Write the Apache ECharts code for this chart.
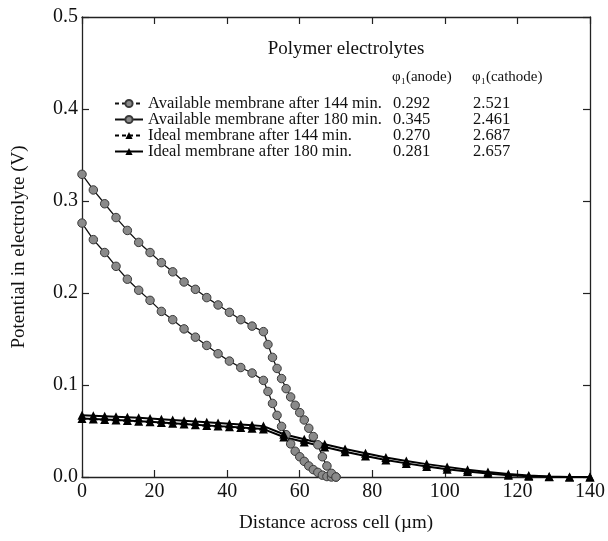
<!DOCTYPE html>
<html>
<head>
<meta charset="utf-8">
<script src="https://cdn.jsdelivr.net/npm/echarts@6/dist/echarts.min.js"></script>
<style>
  html, body { margin: 0; padding: 0; background: #fff; }
  #myChart { width: 608px; height: 541px; }
</style>
</head>
<body>
<div id="myChart"></div>
<script>
    // x positions (um): anode part with 3.125 steps, then finer / coarser meshes
    var xCircle = [0, 3.125, 6.25, 9.375, 12.5, 15.625, 18.75, 21.875, 25, 28.125, 31.25, 34.375, 37.5, 40.625, 43.75, 46.875, 50,
        51.25, 52.5, 53.75, 55, 56.25, 57.5, 58.75, 60, 61.25, 62.5, 63.75, 65, 66.25, 67.5, 68.75, 70];
    var xTriangle = [0, 3.125, 6.25, 9.375, 12.5, 15.625, 18.75, 21.875, 25, 28.125, 31.25, 34.375, 37.5, 40.625, 43.75, 46.875, 50,
        55.625, 61.25, 66.875, 72.5, 78.125, 83.75, 89.375, 95, 100.625, 106.25, 111.875, 117.5, 123.125, 128.75, 134.375, 140];

    var avail144 = [0.276, 0.258, 0.244, 0.229, 0.215, 0.203, 0.192, 0.180, 0.171, 0.161, 0.152, 0.143, 0.134, 0.126, 0.119, 0.113, 0.105,
        0.093, 0.080, 0.067, 0.055, 0.046, 0.036, 0.028, 0.022, 0.017, 0.012, 0.008, 0.005, 0.002, 0.0005, 0, 0];
    var avail180 = [0.329, 0.312, 0.297, 0.282, 0.268, 0.255, 0.244, 0.233, 0.223, 0.212, 0.204, 0.195, 0.187, 0.179, 0.171, 0.164, 0.158,
        0.144, 0.130, 0.118, 0.107, 0.096, 0.087, 0.078, 0.070, 0.062, 0.053, 0.044, 0.035, 0.022, 0.012, 0.004, 0];
    var ideal144 = [0.0635, 0.063, 0.0625, 0.062, 0.0614, 0.0607, 0.060, 0.0593, 0.0585, 0.0577, 0.0569, 0.0561, 0.0553, 0.0545, 0.0537, 0.0529, 0.0521,
        0.0435, 0.038, 0.0325, 0.0275, 0.0228, 0.0185, 0.0148, 0.0115, 0.0085, 0.006, 0.0038, 0.002, 0.0008, 0.0002, 0, 0];
    var ideal180 = [0.067, 0.0665, 0.066, 0.0655, 0.065, 0.0643, 0.0636, 0.0628, 0.062, 0.0612, 0.0603, 0.0595, 0.0587, 0.0578, 0.057, 0.0562, 0.0553,
        0.0465, 0.041, 0.0357, 0.0305, 0.0258, 0.0213, 0.0175, 0.014, 0.011, 0.008, 0.0055, 0.0033, 0.0015, 0.0005, 0.0001, 0];

    var seriesNames = ['Available membrane after 144 min.', 'Available membrane after 180 min.',
        'Ideal membrane after 144 min.', 'Ideal membrane after 180 min.'];
    var phiAnode = ['0.292', '0.345', '0.270', '0.281'];
    var phiCathode = ['2.521', '2.461', '2.687', '2.657'];

    var xTicks = [0, 20, 40, 60, 80, 100, 120, 140];
    var yTicks = [0.0, 0.1, 0.2, 0.3, 0.4, 0.5];

    var FONT = '"Liberation Serif", "Times New Roman", serif';

    function pairs(xs, ys) {
        var out = [];
        for (var i = 0; i < xs.length; i++) { out.push([xs[i], ys[i]]); }
        return out;
    }

    function circleSeries(name, ys) {
        return {
            name: name, type: 'line', data: pairs(xCircle, ys),
            symbol: 'circle', symbolSize: 8.5,
            itemStyle: { color: '#8a8a8a', borderColor: '#3a3a3a', borderWidth: 1 },
            lineStyle: { color: '#111', width: 1.3 },
            animation: false
        };
    }
    function triangleSeries(name, ys) {
        return {
            name: name, type: 'line', data: pairs(xTriangle, ys),
            symbol: 'triangle', symbolSize: 9,
            itemStyle: { color: '#000' },
            lineStyle: { color: '#000', width: 2 },
            animation: false
        };
    }

    // 144 min entries are drawn dashed in the key only
    var legendData = seriesNames.map(function (n, i) {
        return i % 2 === 0 ? { name: n, lineStyle: { type: [4, 3] } } : { name: n };
    });

    var myChart = echarts.init(document.getElementById('myChart'));

    var tickStyle = { inside: true, length: 7, lineStyle: { color: '#222', width: 1.2 } };
    var lineStyle = { onZero: false, lineStyle: { color: '#222', width: 1.3 } };

    var option = {
        backgroundColor: '#fff',
        animation: false,
        grid: { left: 82, right: 14, top: 17, bottom: 64 },
        title: {
            text: 'Polymer electrolytes',
            left: 341, top: 35, textAlign: 'center',
            textStyle: { fontFamily: FONT, fontSize: 19, fontWeight: 'normal', color: '#111' }
        },
        graphic: [
            { type: 'text', left: 392, top: 70, style: { text: 'φ₁(anode)', font: '15px ' + FONT, fill: '#111' } },
            { type: 'text', left: 472, top: 70, style: { text: 'φ₁(cathode)', font: '15px ' + FONT, fill: '#111' } }
        ],
        legend: {
            data: legendData,
            orient: 'vertical',
            left: 109, top: 90,
            itemWidth: 28, itemHeight: 9, itemGap: -1,
            textStyle: {
                fontFamily: FONT, fontSize: 16.5, color: '#111', lineHeight: 16,
                rich: {
                    n: { fontFamily: FONT, fontSize: 16.5, width: 245, lineHeight: 16, color: '#111' },
                    a: { fontFamily: FONT, fontSize: 16.5, width: 80, lineHeight: 16, color: '#111' },
                    c: { fontFamily: FONT, fontSize: 16.5, lineHeight: 16, color: '#111' }
                }
            },
            formatter: function (name) {
                var i = seriesNames.indexOf(name);
                return '{n|' + name + '}{a|' + phiAnode[i] + '}{c|' + phiCathode[i] + '}';
            }
        },
        xAxis: [{
            type: 'value', min: 0, max: 140, interval: 20,
            name: 'Distance across cell (µm)', nameLocation: 'middle', nameGap: 37,
            nameTextStyle: { fontFamily: FONT, fontSize: 19, color: '#111' },
            axisLine: lineStyle, axisTick: tickStyle, splitLine: { show: false },
            axisLabel: {
                fontFamily: FONT, fontSize: 20, color: '#111', margin: 5,
                formatter: function (v) { return xTicks.indexOf(v) >= 0 ? String(v) : ''; }
            }
        }, {
            type: 'value', position: 'top', min: 0, max: 140, interval: 20,
            axisLine: lineStyle, axisTick: tickStyle, axisLabel: { show: false }, splitLine: { show: false }
        }],
        yAxis: [{
            type: 'value', min: 0, max: 0.5, interval: 0.1,
            name: 'Potential in electrolyte (V)', nameLocation: 'middle', nameGap: 53,
            nameTextStyle: { fontFamily: FONT, fontSize: 19, color: '#111' },
            axisLine: lineStyle, axisTick: tickStyle, splitLine: { show: false },
            axisLabel: {
                fontFamily: FONT, fontSize: 20, color: '#111', margin: 4,
                formatter: function (v) { return yTicks[Math.round(v * 10)].toFixed(1); }
            }
        }, {
            type: 'value', position: 'right', min: 0, max: 0.5, interval: 0.1,
            axisLine: lineStyle, axisTick: tickStyle, axisLabel: { show: false }, splitLine: { show: false }
        }],
        series: [
            circleSeries(seriesNames[0], avail144),
            circleSeries(seriesNames[1], avail180),
            triangleSeries(seriesNames[2], ideal144),
            triangleSeries(seriesNames[3], ideal180)
        ]
    };

    myChart.setOption(option);
</script>
</body>
</html>
